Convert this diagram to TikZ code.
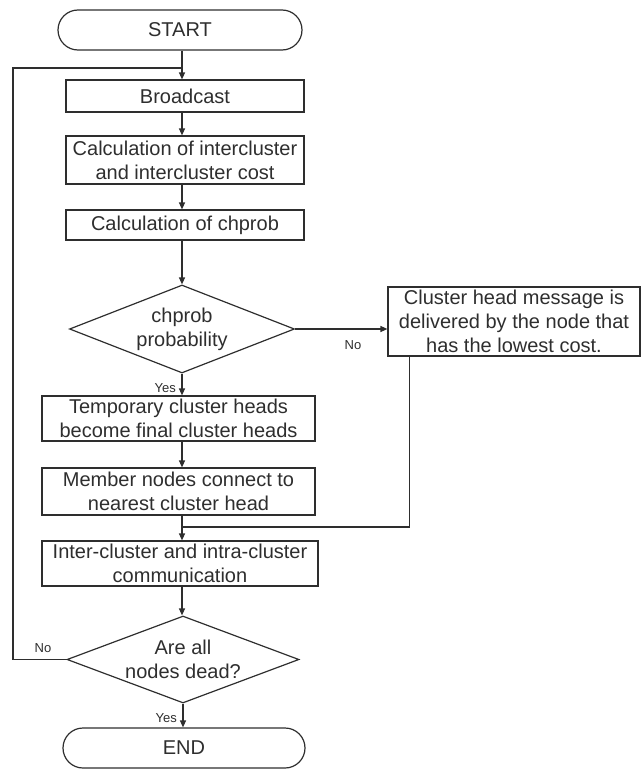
\documentclass[tikz,border=0pt]{standalone}
\usepackage{fontspec}
\setmainfont{Liberation Sans}
\usetikzlibrary{shapes.geometric,arrows.meta}
\definecolor{ink}{HTML}{2E2E2E}
\tikzset{
  every node/.style={text=ink},
  base/.style={draw=ink, line width=1.2pt, inner sep=0pt, align=center,
    font=\fontsize{20}{24}\selectfont},
  procbox/.style={base, rectangle},
  termbox/.style={base, rectangle, rounded corners=20pt},
  decbox/.style={base, diamond, aspect=2.5},
  tag/.style={font=\fontsize{13}{15}\selectfont, inner sep=0pt},
  flow/.style={draw=ink, line width=1.2pt},
  arr/.style={flow, -{Triangle[length=7pt,width=6pt]}}
}
\begin{document}
\begin{tikzpicture}[x=1pt, y=-1pt]
  \useasboundingbox (0,0) rectangle (643,771);

  % main column
  \node[termbox, minimum width=244pt, minimum height=40pt] (start) at (180,30) {START};
  \node[procbox, minimum width=238pt, minimum height=32pt] (bcast) at (185,96) {Broadcast};
  \node[procbox, minimum width=238pt, minimum height=48pt] (cost) at (185,160)
    {Calculation of intercluster\\and intercluster cost};
  \node[procbox, minimum width=238pt, minimum height=30pt] (prob) at (185,225) {Calculation of chprob};
  \node[decbox, minimum width=225pt, minimum height=88pt] (dprob) at (182,329) {chprob\\probability};
  \node[procbox, minimum width=273pt, minimum height=45pt] (final) at (178.5,418.5)
    {Temporary cluster heads\\become final cluster heads};
  \node[procbox, minimum width=273pt, minimum height=47pt] (join) at (178.5,491.5)
    {Member nodes connect to\\nearest cluster head};
  \node[procbox, minimum width=276pt, minimum height=45pt] (comm) at (180,563.5)
    {Inter-cluster and intra-cluster\\communication};
  \node[decbox, aspect=2.6, minimum width=232pt, minimum height=87pt] (ddead) at (183,659.5)
    {Are all\\nodes dead?};
  \node[termbox, minimum width=242pt, minimum height=40pt] (stop) at (184,748) {END};

  % side branch
  \node[procbox, minimum width=252pt, minimum height=69pt] (msg) at (514,321.5)
    {Cluster head message is\\delivered by the node that\\has the lowest cost.};

  % loop and merge points
  \coordinate (loopin) at (182,68);
  \coordinate (merge) at (182,527);

  % straight flow
  \draw[arr] (start.south -| loopin) -- (bcast.north -| loopin);
  \draw[arr] (bcast.south -| loopin) -- (cost.north -| loopin);
  \draw[arr] (cost.south -| loopin) -- (prob.north -| loopin);
  \draw[arr] (prob.south -| dprob.north) -- (dprob.north);
  \draw[arr] (dprob.south) -- (dprob.south |- final.north);
  \node[tag, anchor=east] at ([xshift=-6pt,yshift=-14pt]dprob.south) {Yes};
  \draw[arr] (final.south -| merge) -- (join.north -| merge);
  \draw[arr] (join.south -| merge) -- (comm.north -| merge);
  \draw[arr] (comm.south -| merge) -- (ddead.north -| merge);
  \draw[arr] (ddead.south) -- (ddead.south |- stop.north);
  \node[tag, anchor=east] at ([xshift=-6pt,yshift=-14pt]ddead.south) {Yes};

  % No branch of the probability test
  \draw[arr] (dprob.east) -- (dprob.east -| msg.west);
  \node[tag] at (353,345) {No};
  \draw[flow] ([xshift=22pt]msg.south west) |- (merge);

  % No branch of the termination test
  \draw[flow] (ddead.west) -- (13,659.5) |- (loopin);
  \node[tag] at (43,648) {No};
\end{tikzpicture}
\end{document}
